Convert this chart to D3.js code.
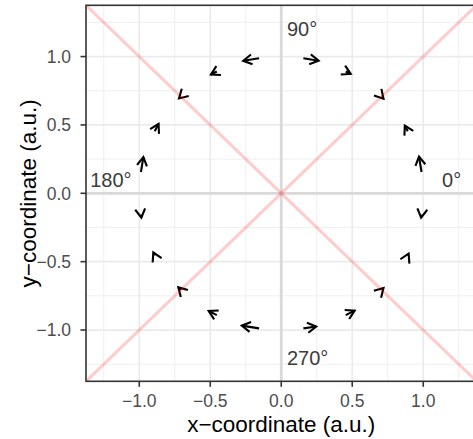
<!DOCTYPE html>
<html><head><meta charset="utf-8">
<script src="https://cdn.jsdelivr.net/npm/d3@7"></script>
<style>body{margin:0;background:#fff}svg{display:block}text{font-family:"Liberation Sans",Arial,Helvetica,sans-serif}</style>
</head><body><svg id="c" width="473" height="439"></svg>
<script>
// arrow tails (on unit circle) and tips
const tailX = [0.988, 0.891, 0.707, 0.454, 0.156, -0.156, -0.454, -0.707, -0.891, -0.988, -0.988, -0.891, -0.707, -0.454, -0.156, 0.156, 0.454, 0.707, 0.891, 0.988];
const tailY = [0.156, 0.454, 0.707, 0.891, 0.988, 0.988, 0.891, 0.707, 0.454, 0.156, -0.156, -0.454, -0.707, -0.891, -0.988, -0.988, -0.891, -0.707, -0.454, -0.156];
const tipX  = [0.970, 0.870, 0.720, 0.489, 0.263, -0.268, -0.495, -0.720, -0.864, -0.971, -0.985, -0.901, -0.725, -0.511, -0.278, 0.246, 0.517, 0.720, 0.897, 0.985];
const tipY  = [0.269, 0.495, 0.692, 0.873, 0.970, 0.969, 0.869, 0.694, 0.508, 0.265, -0.178, -0.433, -0.688, -0.861, -0.968, -0.974, -0.858, -0.693, -0.441, -0.178];
const majorTicks = [-1.0, -0.5, 0.0, 0.5, 1.0];
const minorTicks = [-1.25, -0.75, -0.25, 0.25, 0.75, 1.25];
const angleLabels = ["0°", "90°", "180°", "270°"];
const labelX = [1.2, 0.04, -1.2, 0.04];
const labelY = [0.1, 1.2, 0.1, -1.2];
const labelAnchor = ["middle", "start", "middle", "start"];
const diagA = [[-1.375, -1.375], [1.375, 1.375]];
const diagB = [[-1.375, 1.375], [1.375, -1.375]];
const xTitle = "x\u2212coordinate (a.u.)";
const yTitle = "y\u2212coordinate (a.u.)";

const svg = d3.select("#c");
const L = 86, R = 476.5, T = 5.3, B = 381.3;
const x = d3.scaleLinear().domain([-1.375, 1.375]).range([L, R]);
const y = d3.scaleLinear().domain([-1.375, 1.375]).range([B, T]);
const fmt = v => (v < 0 ? "\u2212" : "") + Math.abs(v).toFixed(1);

const g = svg.append("g");
g.selectAll(".mx").data(minorTicks).join("line").attr("x1", d => x(d)).attr("x2", d => x(d)).attr("y1", T).attr("y2", B).attr("stroke", "#ededed").attr("stroke-width", 0.9);
g.selectAll(".my").data(minorTicks).join("line").attr("y1", d => y(d)).attr("y2", d => y(d)).attr("x1", L).attr("x2", R).attr("stroke", "#ededed").attr("stroke-width", 0.9);
g.selectAll(".Mx").data(majorTicks).join("line").attr("x1", d => x(d)).attr("x2", d => x(d)).attr("y1", T).attr("y2", B).attr("stroke", "#ebebeb").attr("stroke-width", 1.7);
g.selectAll(".My").data(majorTicks).join("line").attr("y1", d => y(d)).attr("y2", d => y(d)).attr("x1", L).attr("x2", R).attr("stroke", "#ebebeb").attr("stroke-width", 1.7);
g.append("line").attr("x1", x(0)).attr("x2", x(0)).attr("y1", T).attr("y2", B).attr("stroke", "#d9d9d9").attr("stroke-width", 2.8);
g.append("line").attr("y1", y(0)).attr("y2", y(0)).attr("x1", L).attr("x2", R).attr("stroke", "#d9d9d9").attr("stroke-width", 2.8);

const headLen = 10, headAng = Math.PI / 6;
const ag = svg.append("g").attr("stroke", "#000").attr("stroke-width", 2.1).attr("fill", "none");
tailX.forEach((_, i) => {
  const sx0 = x(tailX[i]), sy0 = y(tailY[i]), sx1 = x(tipX[i]), sy1 = y(tipY[i]);
  ag.append("line").attr("x1", sx0).attr("y1", sy0).attr("x2", sx1).attr("y2", sy1);
  const a = Math.atan2(sy0 - sy1, sx0 - sx1);
  const p1 = [sx1 + headLen * Math.cos(a + headAng), sy1 + headLen * Math.sin(a + headAng)];
  const p2 = [sx1 + headLen * Math.cos(a - headAng), sy1 + headLen * Math.sin(a - headAng)];
  ag.append("path").attr("d", `M${p1[0]},${p1[1]}L${sx1},${sy1}L${p2[0]},${p2[1]}`).attr("stroke-linejoin", "miter");
});

[diagA, diagB].forEach(d => {
  svg.append("line").attr("x1", x(d[0][0])).attr("y1", y(d[0][1])).attr("x2", x(d[1][0])).attr("y2", y(d[1][1]))
    .attr("stroke", "rgba(255,0,0,0.2)").attr("stroke-width", 3);
});

svg.selectAll(".al").data(angleLabels).join("text")
  .attr("x", (d, i) => x(labelX[i])).attr("y", (d, i) => y(labelY[i])).attr("dy", "0.36em")
  .attr("text-anchor", (d, i) => labelAnchor[i]).attr("font-size", 20).attr("fill", "#3c3c3c").text(d => d);

svg.append("rect").attr("x", L).attr("y", T).attr("width", R - L).attr("height", B - T).attr("fill", "none").attr("stroke", "#333").attr("stroke-width", 1.6);

const ax = svg.append("g");
ax.selectAll(".xt").data(majorTicks).join("line").attr("x1", d => x(d)).attr("x2", d => x(d)).attr("y1", B).attr("y2", B + 5.5).attr("stroke", "#333").attr("stroke-width", 1.6);
ax.selectAll(".yt").data(majorTicks).join("line").attr("y1", d => y(d)).attr("y2", d => y(d)).attr("x1", L - 5.5).attr("x2", L).attr("stroke", "#333").attr("stroke-width", 1.6);
ax.selectAll(".xl").data(majorTicks).join("text").attr("x", d => x(d)).attr("y", 406.5).attr("text-anchor", "middle").attr("font-size", 17.5).attr("fill", "#4d4d4d").text(fmt);
ax.selectAll(".yl").data(majorTicks).join("text").attr("x", 71).attr("y", d => y(d)).attr("dy", "0.36em").attr("text-anchor", "end").attr("font-size", 17.5).attr("fill", "#4d4d4d").text(fmt);

svg.append("text").attr("x", (L + R) / 2).attr("y", 432).attr("text-anchor", "middle").attr("font-size", 22.5).attr("fill", "#000").text(xTitle);
svg.append("text").attr("transform", `translate(36,${(T + B) / 2}) rotate(-90)`).attr("text-anchor", "middle").attr("font-size", 22.5).attr("fill", "#000").text(yTitle);
</script></body></html>
